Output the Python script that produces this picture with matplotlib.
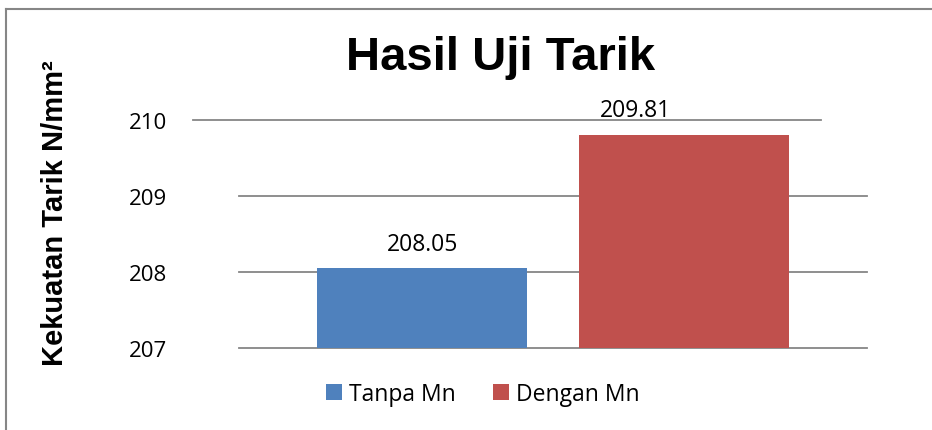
import matplotlib
matplotlib.use("Agg")
import matplotlib.pyplot as plt
from matplotlib.lines import Line2D
from matplotlib.patches import Patch

# data
categories = ['Tanpa Mn', 'Dengan Mn']
values = [208.05, 209.81]
colors = ['#4F81BD', '#C0504D']
yticks = [207, 208, 209, 210]

plt.rcParams['font.family'] = ['Open Sans', 'DejaVu Sans']

fig = plt.figure(figsize=(9.32, 4.31), dpi=100)
ax = fig.add_axes([0.2564, 0.190, 0.674, 0.529])

x = list(range(len(categories)))
bars = ax.bar(x, [v - yticks[0] for v in values], bottom=yticks[0], width=0.8,
              color=colors, zorder=3)
ax.set_xlim(-0.7, 1.7)
ax.set_ylim(yticks[0], yticks[-1])

# gridlines (the top one is shifted left like in the original)
for t in yticks:
    if t == yticks[-1]:
        x0, x1 = -0.073, 0.927
    else:
        x0, x1 = 0.0, 1.0
    ax.plot([x0, x1], [t, t], transform=ax.get_yaxis_transform(), color='#868686',
            lw=1.3, clip_on=False, zorder=1)

for s in ax.spines.values():
    s.set_visible(False)
ax.set_xticks([])
ax.set_yticks(yticks)
ax.set_yticklabels([str(t) for t in yticks], fontsize=16)
ax.tick_params(axis='y', length=0, pad=52)

# value labels (the one above the plot top is pushed left, as in the original)
label_dx = [0, -35]
for xi, v, dx in zip(x, values, label_dx):
    ax.annotate(f'{v:.2f}', (xi, v), xytext=(dx, 13), textcoords='offset points',
                ha='center', va='baseline', fontsize=16.5)

fig.text(0.537, 0.865, 'Hasil Uji Tarik', ha='center', va='center',
         fontsize=34, fontweight='bold', family='Liberation Sans')
fig.text(0.059, 0.505, 'Kekuatan Tarik N/mm²', ha='center', va='center',
         rotation=90, fontsize=21, fontweight='bold', family='Liberation Sans')

handles = [Patch(facecolor=c, label=l) for c, l in zip(colors, categories)]
fig.legend(handles=handles, loc='center', bbox_to_anchor=(0.518, 0.083), ncol=2,
           frameon=False, fontsize=16.5, handlelength=0.7, handleheight=0.7,
           handletextpad=0.3, columnspacing=1.6)

# outer chart border
fig.add_artist(Line2D([6 / 932, 6 / 932], [0, 1 - 10 / 431], color='#868686', lw=1.5,
                      transform=fig.transFigure))
fig.add_artist(Line2D([6 / 932, 1], [1 - 10 / 431, 1 - 10 / 431], color='#868686', lw=1.5,
                      transform=fig.transFigure))

fig.savefig('out.png', dpi=100)
